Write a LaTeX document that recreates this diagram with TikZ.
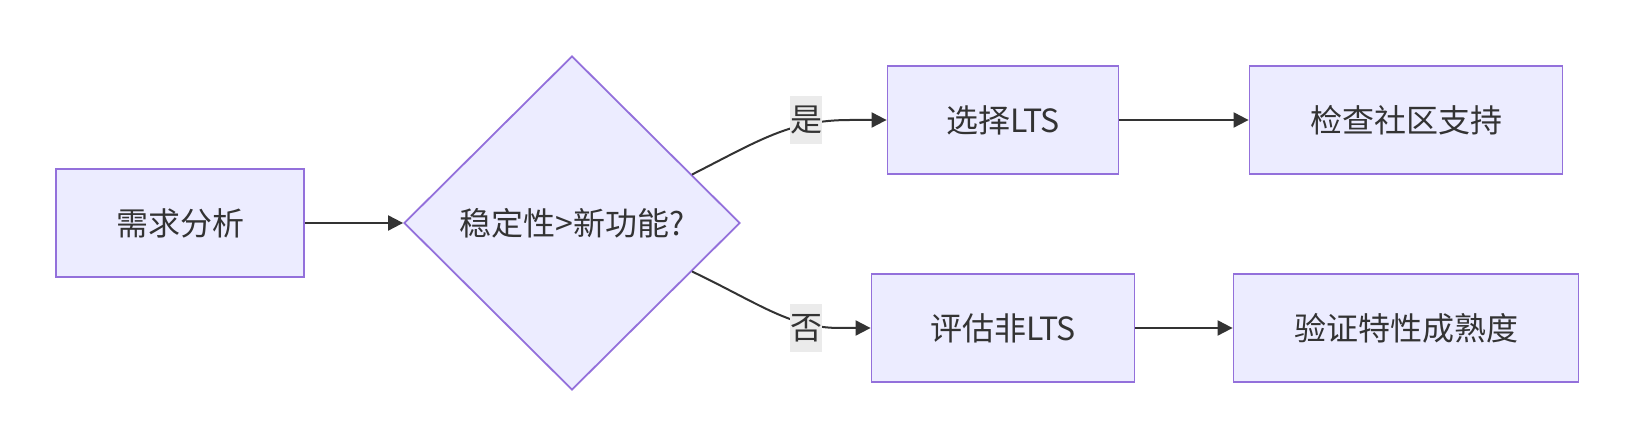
\documentclass[tikz,border=0pt]{standalone}
\usepackage{fontspec}
\setmainfont{Noto Sans CJK SC}
\usepackage{tikz}
\usetikzlibrary{shapes.geometric,arrows.meta}

\definecolor{boxfill}{HTML}{ECECFF}
\definecolor{boxline}{HTML}{9370DB}
\definecolor{ink}{HTML}{333333}
\definecolor{tagfill}{HTML}{EBEBEB}

\tikzset{
    stepbox/.style={draw=boxline, fill=boxfill, line width=0.9pt, text=ink,
        minimum height=54pt, inner sep=0pt},
    askbox/.style={diamond, draw=boxline, fill=boxfill, line width=0.9pt, text=ink,
        minimum width=168pt, minimum height=167pt, inner sep=0pt},
    tag/.style={fill=tagfill, text=ink, minimum width=16pt, minimum height=24pt, inner sep=0pt},
    flow/.style={draw=ink, line width=1pt, -{Triangle[length=7.5pt,width=7.5pt]}}
}

\begin{document}
\begin{tikzpicture}[x=0.5pt, y=-0.5pt, font=\fontsize{16}{19}\selectfont]
    \useasboundingbox (0,0) rectangle (1634,448);

    % draw nodes
    \node[stepbox, minimum width=124pt] (need) at (180,223) {需求分析};
    \node[askbox] (ask) at (572,223) {稳定性>新功能?};
    \node[stepbox, minimum width=115.5pt] (pick) at (1003,120) {选择LTS};
    \node[stepbox, minimum width=156.5pt] (check) at (1406,120) {检查社区支持};
    \node[stepbox, minimum width=131.5pt] (weigh) at (1003,328) {评估非LTS};
    \node[stepbox, minimum width=172.5pt] (prove) at (1406,328) {验证特性成熟度};

    % draw straight arrows
    \draw[flow] (need.east) -- (ask.west);
    \draw[flow] (pick.east) -- (check.west);
    \draw[flow] (weigh.east) -- (prove.west);

    % draw curved arrows
    \draw[flow] (ask.22.5) .. controls (760,140) and (790,120) .. (850,120) -- (pick.west);
    \draw[flow] (ask.-22.5) .. controls (760,304) and (790,328) .. (840,328) -- (weigh.west);

    % draw labels
    \node[tag] (yes) at (806,120) {是};
    \node[tag] (no) at (806,328) {否};
\end{tikzpicture}
\end{document}
